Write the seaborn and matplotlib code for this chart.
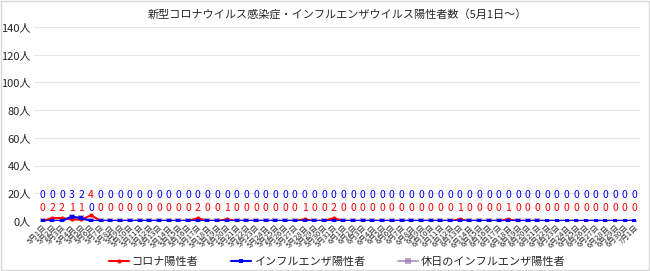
import numpy as np
import pandas as pd
import matplotlib
matplotlib.use('Agg')
import matplotlib.pyplot as plt
import seaborn as sns

# dates 5/1 - 7/1
dates = [f'5月{d}日' for d in range(1, 32)] + [f'6月{d}日' for d in range(1, 31)] + ['7月1日']

corona = [0, 2, 2, 1, 1, 4, 0, 0, 0, 0, 0, 0, 0, 0, 0, 0, 2, 0, 0, 1,
          0, 0, 0, 0, 0, 0, 0, 1, 0, 0, 2, 0, 0, 0, 0, 0, 0, 0, 0, 0,
          0, 0, 0, 1, 0, 0, 0, 0, 1, 0, 0, 0, 0, 0, 0, 0, 0, 0, 0, 0,
          0, 0]
flu = [0, 0, 0, 3, 2, 0] + [0] * 56
# holiday flu line (faint purple, runs under the blue one until late June)
holiday_flu = [0, 0, 0, 3, 2, 0] + [0] * 46 + [np.nan] * 10

sns.set_theme(style='white')
plt.rcParams['font.family'] = ['Noto Sans CJK JP', 'DejaVu Sans']

df = pd.DataFrame({'date': dates, 'x': range(len(dates)),
                   'corona': corona, 'flu': flu, 'holiday': holiday_flu})

fig, ax = plt.subplots(figsize=(6.5, 2.71), dpi=100)
fig.subplots_adjust(left=0.052, right=0.985, top=0.9, bottom=0.185)

sns.lineplot(data=df, x='x', y='holiday', ax=ax, color='#8064a2', alpha=0.55,
             marker='s', markersize=4, linewidth=1.5, markeredgewidth=0,
             label='休日のインフルエンザ陽性者')
sns.lineplot(data=df, x='x', y='corona', ax=ax, color='#ff0000',
             marker='o', markersize=3, linewidth=1.5, markeredgewidth=0,
             label='コロナ陽性者')
sns.lineplot(data=df, x='x', y='flu', ax=ax, color='#0000ff',
             marker='s', markersize=3.5, linewidth=1.5, markeredgewidth=0,
             label='インフルエンザ陽性者')

# data labels: blue above red, except where corona is higher
for i in range(len(dates)):
    if corona[i] >= 3:
        y_red, y_blue = 18.5, 9
    else:
        y_red, y_blue = 9, 18.5
    ax.text(i, y_red, str(corona[i]), color='#ff0000', ha='center', va='center', fontsize=7.5)
    ax.text(i, y_blue, str(flu[i]), color='#0000ff', ha='center', va='center', fontsize=7.5)

ax.set_ylim(0, 140)
ax.set_yticks(range(0, 141, 20))
ax.set_yticklabels([f'{v}人' for v in range(0, 141, 20)], fontsize=8)
ax.set_xlim(-0.9, len(dates) - 0.4)
ax.set_xticks(range(len(dates)))
ax.set_xticklabels(dates, rotation=45, ha='right', rotation_mode='anchor', fontsize=5.5)
ax.tick_params(axis='both', length=0, pad=2)
ax.set_xlabel('')
ax.set_ylabel('')
ax.yaxis.grid(True, color='#e6e6e6', linewidth=0.8)
ax.set_axisbelow(True)
for s in ax.spines.values():
    s.set_visible(False)
ax.axhline(0, color='#d9d9d9', linewidth=0.8, zorder=0)

ax.set_title('新型コロナウイルス感染症・インフルエンザウイルス陽性者数（5月1日〜）', fontsize=8, pad=7)

h, l = ax.get_legend_handles_labels()
order = [1, 2, 0]
ax.legend([h[k] for k in order], [l[k] for k in order], loc='upper center',
          bbox_to_anchor=(0.5, -0.135), ncol=3, frameon=False, fontsize=8,
          handlelength=1.8, columnspacing=3, handletextpad=0.2)

fig.patches.append(plt.Rectangle((0.001, 0.002), 0.997, 0.995, transform=fig.transFigure,
                                 fill=False, edgecolor='#d9d9d9', linewidth=1))
fig.savefig('out.png', dpi=100)
